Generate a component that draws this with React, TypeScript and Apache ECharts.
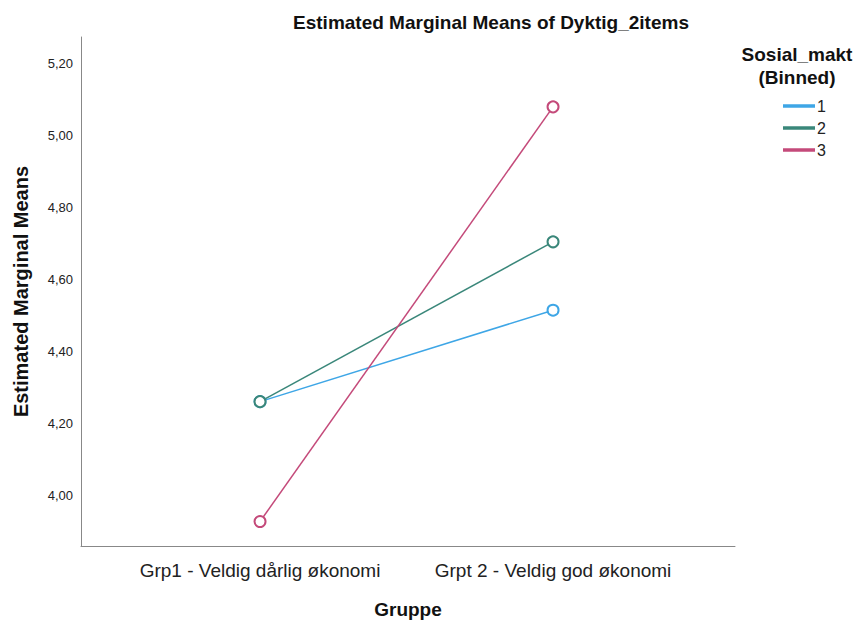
import React, { useEffect, useRef } from "react";
import * as echarts from "echarts";

const categories = ["Grp1 - Veldig dårlig økonomi", "Grpt 2 - Veldig god økonomi"];
const seriesNames = ["1", "2", "3"];
const values1 = [4.262, 4.516];
const values2 = [4.262, 4.706];
const values3 = [3.929, 5.081];
const yTicks = [4.0, 4.2, 4.4, 4.6, 4.8, 5.0, 5.2];
const colors = ["#3ea6e6", "#3a877a", "#c44a7a"];

export default function App() {
  const ref = useRef<HTMLDivElement>(null);
  useEffect(() => {
    if (!ref.current) return;
    const chart = echarts.init(ref.current, null, { renderer: "svg" });
    const all = [values1, values2, values3];
    const font = "'Liberation Sans', Arial, sans-serif";
    chart.setOption({
      animation: false,
      backgroundColor: "#ffffff",
      title: {
        text: "Estimated Marginal Means of Dyktig_2items",
        left: 486,
        top: 8,
        textAlign: "center",
        textStyle: { fontFamily: font, fontSize: 19, fontWeight: "bold", color: "#111" },
      },
      legend: {
        orient: "vertical",
        left: 778,
        top: 93,
        itemWidth: 30,
        itemHeight: 1.5,
        itemGap: 6,
        icon: "rect",
        data: seriesNames,
        textStyle: { fontFamily: font, fontSize: 16, color: "#222", padding: [0, 0, 0, -2] },
      },
      graphic: [
        {
          type: "text",
          x: 797,
          y: 43,
          style: {
            text: "Sosial_makt\n(Binned)",
            fontFamily: font,
            fontSize: 19,
            fontWeight: "bold",
            fill: "#111",
            align: "center",
            lineHeight: 23,
          },
        },
      ],
      grid: { left: 81, right: 126, top: 37, bottom: 78 },
      xAxis: {
        type: "value",
        min: -0.611,
        max: 1.621,
        splitLine: { show: false },
        axisLine: { show: true, onZero: false, lineStyle: { color: "#888", width: 1 } },
        axisTick: { show: false },
        axisLabel: {
          customValues: [0, 1],
          formatter: (v: number) => categories[Math.round(v)] ?? "",
          fontFamily: font,
          fontSize: 19,
          color: "#222",
          margin: 15,
        },
        name: "Gruppe",
        nameLocation: "middle",
        nameGap: 54,
        nameTextStyle: { fontFamily: font, fontSize: 19, fontWeight: "bold", color: "#111" },
      },
      yAxis: {
        type: "value",
        min: 3.861,
        max: 5.275,
        splitLine: { show: false },
        axisLine: { show: true, onZero: false, lineStyle: { color: "#888", width: 1 } },
        axisTick: { show: false },
        axisLabel: {
          customValues: yTicks,
          formatter: (v: number) => v.toFixed(2).replace(".", ","),
          fontFamily: font,
          fontSize: 13,
          color: "#222",
          margin: 8,
        },
        name: "Estimated Marginal Means",
        nameLocation: "middle",
        nameGap: 50,
        nameRotate: 90,
        nameTextStyle: { fontFamily: font, fontSize: 20, fontWeight: "bold", color: "#111" },
      },
      series: all.map((vals, i) => ({
        name: seriesNames[i],
        type: "line",
        data: vals.map((v, j) => [j, v]),
        symbol: "emptyCircle",
        symbolSize: 11,
        showSymbol: true,
        color: colors[i],
        lineStyle: { width: 1.5, color: colors[i] },
        itemStyle: { color: colors[i], borderColor: colors[i], borderWidth: 1.5 },
      })),
    });
    return () => chart.dispose();
  }, []);
  return (
    <div
      ref={ref}
      style={{ position: "fixed", left: 0, top: 0, width: 861, height: 624 }}
    />
  );
}
